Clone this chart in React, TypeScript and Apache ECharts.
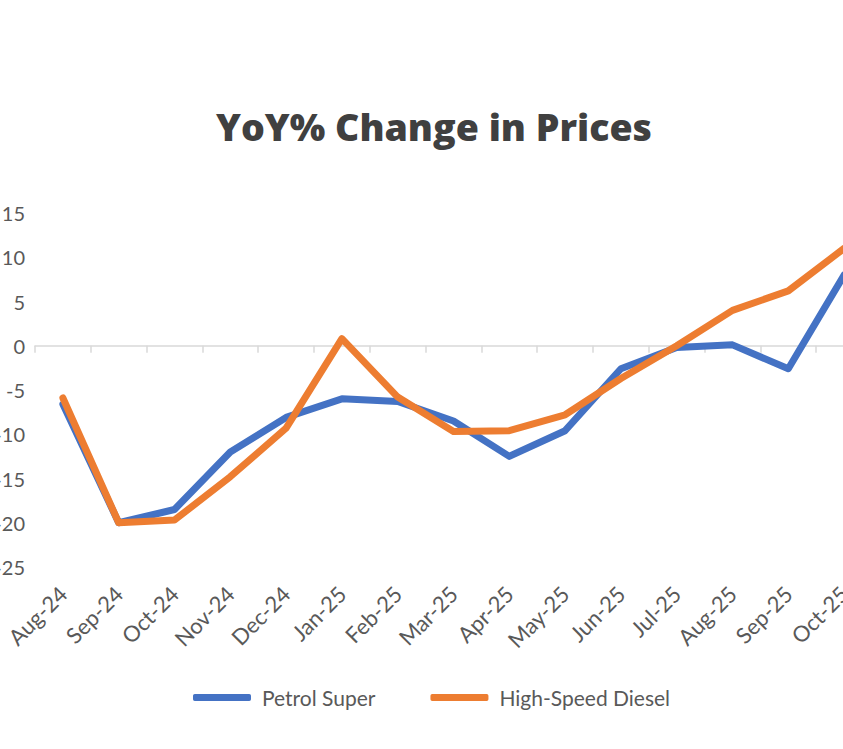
import React, { useEffect, useRef } from "react";
import * as echarts from "echarts";

const categories = [
  "Aug-24", "Sep-24", "Oct-24", "Nov-24", "Dec-24", "Jan-25", "Feb-25", "Mar-25",
  "Apr-25", "May-25", "Jun-25", "Jul-25", "Aug-25", "Sep-25", "Oct-25",
];
const petrolSuper = [-6.6, -20.0, -18.5, -12.0, -8.1, -6.0, -6.3, -8.5, -12.5, -9.6, -2.6, -0.2, 0.1, -2.6, 8.0];
const highSpeedDiesel = [-5.9, -20.0, -19.7, -14.8, -9.3, 0.8, -5.8, -9.7, -9.6, -7.8, -3.7, 0.0, 4.0, 6.2, 11.0];
const yMin = -25;
const yMax = 15;
const yStep = 5;

const FONT = "Lato, sans-serif";
const TITLE_FONT = "'Open Sans', sans-serif";
const TEXT = "#595959";

export default function App() {
  const ref = useRef<HTMLDivElement>(null);
  useEffect(() => {
    if (!ref.current) return;
    const chart = echarts.init(ref.current, undefined, { renderer: "svg" });
    const gridBox = { left: 35, top: 213, width: 837, height: 354, containLabel: false, outerBoundsMode: "none" };
    chart.setOption({
      animation: false,
      backgroundColor: "#ffffff",
      title: {
        text: "YoY% Change in Prices",
        left: 429,
        textAlign: "center",
        top: 102,
        textStyle: { fontFamily: TITLE_FONT, fontWeight: 800, fontSize: 37.5, color: "#404040" },
      },
      legend: {
        left: 188,
        top: 682,
        itemWidth: 58,
        itemHeight: 7,
        itemGap: 55,
        icon: "roundRect",
        textStyle: { fontFamily: FONT, fontSize: 21, color: TEXT, padding: [0, 0, 0, 6] },
        data: ["Petrol Super", "High-Speed Diesel"],
      },
      grid: [
        { ...gridBox },
        { ...gridBox },
      ],
      xAxis: [
        {
          type: "category",
          gridIndex: 0,
          data: categories,
          boundaryGap: true,
          axisLine: { onZero: true, lineStyle: { color: "#d9d9d9", width: 1.5 } },
          axisTick: { show: true, length: 7, lineStyle: { color: "#d9d9d9", width: 1.5 } },
          axisLabel: { show: false },
        },
        {
          type: "category",
          gridIndex: 1,
          data: categories,
          boundaryGap: true,
          axisLine: { show: false },
          axisTick: { show: false },
          axisLabel: { rotate: 45, margin: 23, fontFamily: FONT, fontSize: 22, color: TEXT, padding: [0, 0, 0, 0] },
        },
      ],
      yAxis: [
        {
          type: "value",
          gridIndex: 0,
          min: yMin,
          max: yMax,
          interval: yStep,
          splitLine: { show: false },
          axisLine: { show: false },
          axisTick: { show: false },
          axisLabel: { margin: 10, fontFamily: FONT, fontSize: 20, color: TEXT },
        },
        {
          type: "value",
          gridIndex: 1,
          min: yMin,
          max: yMax,
          interval: yStep,
          show: false,
        },
      ],
      series: [
        {
          name: "Petrol Super",
          type: "line",
          xAxisIndex: 0,
          yAxisIndex: 0,
          data: petrolSuper,
          showSymbol: false,
          symbol: "none",
          lineStyle: { width: 7, color: "#4472C4", cap: "round", join: "round" },
          itemStyle: { color: "#4472C4" },
        },
        {
          name: "High-Speed Diesel",
          type: "line",
          xAxisIndex: 0,
          yAxisIndex: 0,
          data: highSpeedDiesel,
          showSymbol: false,
          symbol: "none",
          lineStyle: { width: 7, color: "#ED7D31", cap: "round", join: "round" },
          itemStyle: { color: "#ED7D31" },
        },
      ],
    });
    return () => chart.dispose();
  }, []);
  return (
    <div style={{ position: "fixed", left: 0, top: 0, width: 843, height: 749, overflow: "hidden", background: "#fff" }}>
      <div ref={ref} style={{ position: "absolute", left: 0, top: 0, width: 900, height: 749 }} />
    </div>
  );
}
